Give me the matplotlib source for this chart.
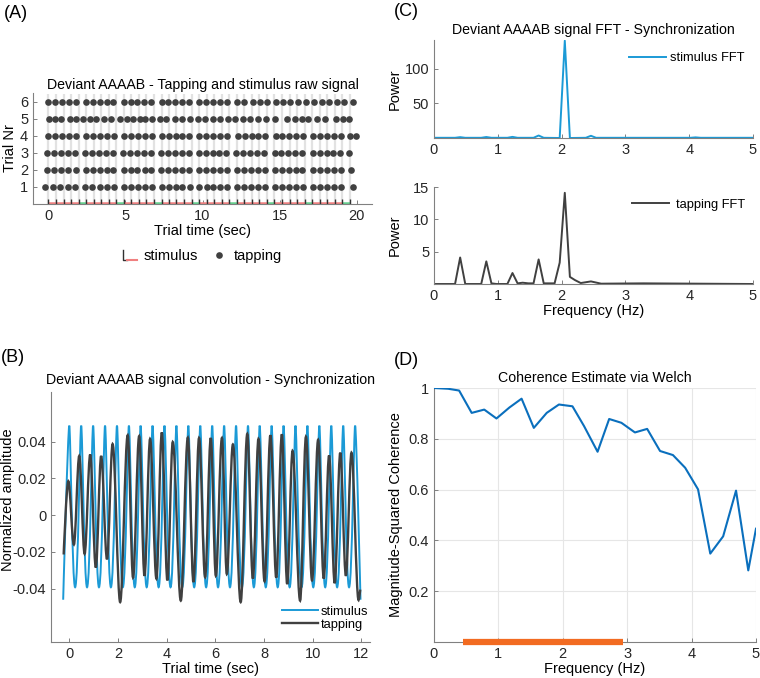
"""
Four panel figure: raw tapping / stimulus events, convolved signals,
FFT power of both signals and Welch coherence (AAAAB deviant condition).
"""

import matplotlib
matplotlib.use('Agg')
import matplotlib.pyplot as plt
from matplotlib.lines import Line2D
from matplotlib.path import Path
from matplotlib.patches import PathPatch
from matplotlib.legend_handler import HandlerBase

# ---------------------------------------------------------------
# Data
# ---------------------------------------------------------------

# (A) stimulus onsets (sec) and their type, tap onsets per trial
stim_times = [0.00, 0.49, 0.98, 1.47, 1.96, 2.45, 2.93, 3.42, 3.91, 4.40,
              4.89, 5.38, 5.87, 6.36, 6.85, 7.34, 7.82, 8.31, 8.80, 9.29,
              9.78, 10.27, 10.76, 11.25, 11.74, 12.23, 12.71, 13.20, 13.69, 14.18,
              14.67, 15.16, 15.65, 16.14, 16.63, 17.12, 17.60, 18.09, 18.58, 19.07,
              19.56]
stim_labels = "AAAABAAAABAAAABAAAABAAAABAAAABAAAABAAAABA"

taps_trial1 = [-0.24, 0.30, 0.78, 1.25, 1.72, 2.40, 2.86, 3.32, 3.78, 4.24,
               4.88, 5.34, 5.80, 6.26, 6.70, 7.34, 7.80, 8.26, 8.70, 9.16,
               9.80, 10.26, 10.70, 11.16, 11.60, 12.26, 12.72, 13.16, 13.60, 14.06,
               14.72, 15.18, 15.62, 16.08, 16.52, 17.20, 17.64, 18.10, 18.56, 19.00,
               19.76]
taps_trial2 = [-0.08, 0.38, 0.84, 1.30, 1.76, 2.42, 2.88, 3.32, 3.78, 4.22,
               4.90, 5.34, 5.78, 6.24, 6.68, 7.32, 7.78, 8.22, 8.68, 9.12,
               9.78, 10.24, 10.68, 11.14, 11.58, 12.24, 12.70, 13.14, 13.58, 14.04,
               14.70, 15.14, 15.60, 16.04, 16.48, 17.18, 17.62, 18.08, 18.52, 18.98,
               19.62]
taps_trial3 = [-0.10, 0.36, 0.82, 1.28, 1.74, 2.40, 2.86, 3.30, 3.75, 4.20,
               4.85, 5.30, 5.75, 6.20, 6.65, 7.30, 7.75, 8.20, 8.65, 9.10,
               9.75, 10.20, 10.65, 11.10, 11.55, 12.20, 12.65, 13.10, 13.55, 14.00,
               14.68, 15.12, 15.56, 16.00, 16.44, 17.15, 17.60, 18.05, 18.50, 18.95,
               19.52]
taps_trial4 = [0.00, 0.46, 0.90, 1.35, 1.80, 2.46, 2.90, 3.35, 3.80, 4.24,
               4.92, 5.36, 5.80, 6.25, 6.70, 7.36, 7.80, 8.25, 8.70, 9.14,
               9.80, 10.25, 10.70, 11.14, 11.58, 12.30, 12.74, 13.18, 13.62, 14.06,
               14.74, 15.18, 15.62, 16.06, 16.50, 17.20, 17.64, 18.08, 18.52, 18.96,
               19.57, 19.96]
taps_trial5 = [0.04, 0.45, 0.84, 1.38, 1.82, 2.25, 2.68, 3.12, 3.61, 4.05,
               4.63, 5.10, 5.49, 5.93, 6.30, 6.72, 7.23, 7.66, 8.20, 8.64,
               9.18, 9.68, 10.15, 10.69, 11.12, 11.66, 12.10, 12.64, 13.07, 13.60,
               14.10, 14.70, 15.49, 15.99, 16.43, 16.86, 17.40, 17.94, 18.66, 19.09,
               19.52]
taps_trial6 = [0.00, 0.45, 0.89, 1.34, 1.78, 2.43, 2.88, 3.33, 3.78, 4.22,
               4.88, 5.33, 5.78, 6.22, 6.66, 7.34, 7.78, 8.22, 8.67, 9.12,
               9.78, 10.22, 10.66, 11.11, 11.56, 12.22, 12.67, 13.25, 13.72, 14.20,
               14.76, 15.23, 15.71, 16.20, 16.71, 17.23, 17.73, 18.22, 18.74, 19.18,
               19.78]
tap_trials = [taps_trial1, taps_trial2, taps_trial3, taps_trial4, taps_trial5, taps_trial6]

# (B) convolved signals, given by their turning points (sec, amplitude)
stim_conv_t = [-0.25, 0.00, 0.24, 0.49, 0.73, 0.98, 1.22, 1.47, 1.71, 1.96,
               2.20, 2.45, 2.69, 2.93, 3.18, 3.42, 3.67, 3.91, 4.16, 4.40,
               4.64, 4.89, 5.13, 5.38, 5.62, 5.87, 6.11, 6.36, 6.60, 6.85,
               7.09, 7.34, 7.58, 7.82, 8.07, 8.31, 8.56, 8.80, 9.05, 9.29,
               9.54, 9.78, 10.02, 10.27, 10.51, 10.76, 11.00, 11.25, 11.49, 11.74,
               11.96]
stim_conv_v = [-0.0460, 0.0487, -0.0392, 0.0487, -0.0392, 0.0487, -0.0392, 0.0487, -0.0392, 0.0487,
               -0.0392, 0.0487, -0.0392, 0.0487, -0.0392, 0.0487, -0.0392, 0.0487, -0.0392, 0.0487,
               -0.0392, 0.0487, -0.0392, 0.0487, -0.0392, 0.0487, -0.0392, 0.0487, -0.0392, 0.0487,
               -0.0392, 0.0487, -0.0392, 0.0487, -0.0392, 0.0487, -0.0392, 0.0487, -0.0392, 0.0487,
               -0.0392, 0.0487, -0.0392, 0.0487, -0.0392, 0.0487, -0.0392, 0.0487, -0.0392, 0.0487,
               -0.0460]

tap_conv_t = [-0.23, -0.04, 0.19, 0.41, 0.63, 0.86, 1.09, 1.31, 1.55, 1.78,
              2.09, 2.40, 2.62, 2.87, 3.09, 3.32, 3.58, 3.80, 4.03, 4.25,
              4.58, 4.87, 5.10, 5.33, 5.58, 5.81, 6.02, 6.27, 6.47, 6.72,
              7.04, 7.31, 7.54, 7.77, 8.02, 8.26, 8.50, 8.73, 8.95, 9.17,
              9.48, 9.72, 9.97, 10.22, 10.45, 10.67, 10.90, 11.13, 11.36, 11.59,
              11.88, 11.95]
tap_conv_v = [-0.0214, 0.0185, -0.0160, 0.0322, -0.0210, 0.0330, -0.0285, 0.0322, -0.0240, 0.0387,
              -0.0473, 0.0435, -0.0340, 0.0430, -0.0330, 0.0415, -0.0346, 0.0450, -0.0355, 0.0398,
              -0.0465, 0.0422, -0.0364, 0.0420, -0.0337, 0.0420, -0.0330, 0.0420, -0.0320, 0.0385,
              -0.0473, 0.0442, -0.0345, 0.0415, -0.0360, 0.0435, -0.0340, 0.0440, -0.0375, 0.0350,
              -0.0465, 0.0427, -0.0355, 0.0410, -0.0345, 0.0325, -0.0370, 0.0340, -0.0330, 0.0340,
              -0.0462, -0.0405]

# (C) FFT power spectra
stim_fft_f = [0.00, 0.33, 0.41, 0.49, 0.74, 0.82, 0.90, 1.15, 1.23, 1.31, 1.56, 1.64,
              1.72, 1.97, 2.05, 2.13, 2.38, 2.46, 2.54, 4.02, 4.10, 4.18, 5.00]
stim_fft_p = [0.3, 0.3, 1.2, 0.3, 0.3, 1.4, 0.3, 0.3, 1.6, 0.3, 0.3, 3.6,
              0.3, 0.0, 141.0, 0.0, 0.3, 3.2, 0.3, 0.3, 0.9, 0.3, 0.3]

tap_fft_f = [0.00, 0.33, 0.41, 0.49, 0.74, 0.82, 0.90, 0.98, 1.15, 1.23, 1.31, 1.39, 1.48,
             1.56, 1.64, 1.72, 1.89, 1.97, 2.05, 2.13, 2.21, 2.30, 2.46, 2.62, 3.28, 5.00]
tap_fft_p = [0.0, 0.0, 4.1, 0.0, 0.0, 3.5, 0.1, 0.0, 0.0, 1.7, 0.1, 0.2, 0.1,
             0.1, 3.8, 0.1, 0.1, 3.3, 14.1, 1.1, 0.6, 0.15, 0.4, 0.05, 0.1, 0.0]

# (D) magnitude-squared coherence
coh_f = [0.00, 0.22, 0.39, 0.585, 0.78, 0.97, 1.17, 1.36, 1.55, 1.75, 1.94, 2.15, 2.33, 2.54,
         2.72, 2.91, 3.12, 3.31, 3.51, 3.71, 3.90, 4.10, 4.29, 4.49, 4.69, 4.88, 5.00]
coh_v = [1.000, 0.997, 0.990, 0.902, 0.915, 0.880, 0.923, 0.958, 0.843, 0.902, 0.935, 0.928,
         0.850, 0.749, 0.878, 0.863, 0.825, 0.839, 0.752, 0.736, 0.686, 0.601, 0.348, 0.416,
         0.596, 0.282, 0.446]
sig_band = [0.45, 2.94]

# ---------------------------------------------------------------
# Style
# ---------------------------------------------------------------
W, H = 760, 678
STIM_BLUE = '#1b9ad6'
TAP_GRAY = '#404040'
COH_BLUE = '#0a6fbd'
BAND_ORANGE = '#f26b21'
STIM_RED = '#f08080'
STIM_GREEN = '#66d08e'
AXIS_GRAY = '#808080'
TEXT_DARK = '#262626'
FS = 10.5        # ticks and axis labels
FS_TITLE = 10.2
FS_LEGEND = 9.3

plt.rcParams['font.family'] = ['Liberation Sans', 'DejaVu Sans']
plt.rcParams['font.size'] = FS
plt.rcParams['axes.unicode_minus'] = False


def px_rect(left, top, right, bottom):
    """Axes rectangle from pixel edges (origin top-left)."""
    return [left / W, 1 - bottom / H, (right - left) / W, (bottom - top) / H]


def style_axes(ax):
    for s in ['top', 'right']:
        ax.spines[s].set_visible(False)
    for s in ['left', 'bottom']:
        ax.spines[s].set_color(AXIS_GRAY)
        ax.spines[s].set_linewidth(0.8)
    ax.tick_params(direction='in', length=3, width=0.7, color=AXIS_GRAY,
                   labelcolor=TEXT_DARK, labelsize=FS)


def turning_point_path(ts, vs, k_max, k_min):
    """Smooth bezier path through turning points (flat tangent at each one).
    k_max / k_min set how wide the curve is around maxima / minima."""
    verts = [(ts[0], vs[0])]
    codes = [Path.MOVETO]
    last = len(ts) - 1
    for i in range(last):
        t0, v0, t1, v1 = ts[i], vs[i], ts[i + 1], vs[i + 1]
        dt = t1 - t0
        k0 = 0.0 if i == 0 else (k_max if v0 > v1 else k_min)
        k1 = 0.0 if i + 1 == last else (k_max if v1 > v0 else k_min)
        verts += [(t0 + k0 * dt, v0), (t1 - k1 * dt, v1), (t1, v1)]
        codes += [Path.CURVE4] * 3
    return Path(verts, codes)


class StimIconHandler(HandlerBase):
    """Legend glyph for the stimulus: black onset tick on a red baseline."""

    def create_artists(self, legend, orig_handle, xdescent, ydescent,
                       width, height, fontsize, trans):
        x0, y0 = -xdescent, -ydescent
        tick = Line2D([x0, x0, x0 + 0.3 * width], [y0 + height, y0, y0],
                      color='#303030', lw=1.0, transform=trans)
        base = Line2D([x0 + 0.3 * width, x0 + width], [y0, y0],
                      color=STIM_RED, lw=1.5, transform=trans)
        return [tick, base]


def plot_raw(ax):
    """(A) stimulus onsets as grey lines, taps as dots per trial."""
    ax.vlines(stim_times, 0, 6.45, color='#e2e2e2', lw=1.6, zorder=1)
    for trial, taps in enumerate(tap_trials, start=1):
        ax.plot(taps, [trial] * len(taps), 'o', color=TAP_GRAY, ms=4.8,
                mec='none', zorder=3)
    seg_colors = [STIM_GREEN if lab == 'B' else STIM_RED for lab in stim_labels[:-1]]
    seg_y = [0.05] * (len(stim_times) - 1)
    ax.hlines(seg_y, stim_times[:-1], stim_times[1:], colors=seg_colors, lw=1.8,
              zorder=2, clip_on=False)
    ax.vlines(stim_times, 0, 0.32, color='#303030', lw=1.0, zorder=2)

    ax.set_xlim(-1, 21)
    ax.set_ylim(0, 6.5)
    ax.set_yticks([1, 2, 3, 4, 5, 6])
    ax.set_xticks([0, 5, 10, 15, 20])
    style_axes(ax)
    ax.set_title('Deviant AAAAB - Tapping and stimulus raw signal', fontsize=FS_TITLE,
                 pad=3, color='black')
    ax.set_xlabel('Trial time (sec)', labelpad=1)
    ax.set_ylabel('Trial Nr', labelpad=2)

    stim_proxy = Line2D([], [])
    tap_handle = Line2D([], [], color=TAP_GRAY, marker='o', ls='none', ms=4.8, mec='none')
    ax.legend([stim_proxy, tap_handle], ['stimulus', 'tapping'], ncol=2,
              loc='center', bbox_to_anchor=(0.5, -0.47), frameon=False,
              handler_map={stim_proxy: StimIconHandler()},
              handlelength=0.9, handletextpad=0.5, columnspacing=1.0, fontsize=FS)


def plot_convolution(ax):
    """(B) convolved stimulus and tapping signals."""
    ax.add_patch(PathPatch(turning_point_path(stim_conv_t, stim_conv_v, 0.22, 0.5),
                           fill=False, edgecolor=STIM_BLUE, lw=1.4))
    ax.add_patch(PathPatch(turning_point_path(tap_conv_t, tap_conv_v, 0.36, 0.36),
                           fill=False, edgecolor=TAP_GRAY, lw=1.7))
    ax.set_xlim(-0.75, 12.35)
    ax.set_ylim(-0.069, 0.067)
    ax.set_xticks([0, 2, 4, 6, 8, 10, 12])
    ax.set_yticks([-0.04, -0.02, 0, 0.02, 0.04])
    ax.set_yticklabels(['-0.04', '-0.02', '0', '0.02', '0.04'])
    style_axes(ax)
    ax.set_title('Deviant AAAAB signal convolution - Synchronization', fontsize=FS_TITLE, pad=6)
    ax.set_xlabel('Trial time (sec)', labelpad=1)
    ax.set_ylabel('Normalized amplitude')
    ax.yaxis.set_label_coords(-0.112, 0.57)
    handles = [Line2D([], [], color=STIM_BLUE, lw=1.4),
               Line2D([], [], color=TAP_GRAY, lw=1.7)]
    ax.legend(handles, ['stimulus', 'tapping'], loc='lower right',
              bbox_to_anchor=(1.01, 0.025), frameon=False, fontsize=FS_LEGEND,
              handlelength=2.8, handletextpad=0.2, labelspacing=0.05, borderaxespad=0)


def plot_fft(ax_top, ax_bot):
    """(C) FFT power of stimulus (top) and tapping (bottom)."""
    ax_top.plot(stim_fft_f, stim_fft_p, color=STIM_BLUE, lw=1.4, label='stimulus FFT')
    ax_top.set_xlim(0, 5)
    ax_top.set_ylim(0, 142)
    ax_top.set_yticks([50, 100])
    ax_top.set_xticks([0, 1, 2, 3, 4, 5])
    style_axes(ax_top)
    ax_top.set_title('Deviant AAAAB signal FFT - Synchronization', fontsize=FS_TITLE, pad=4)
    ax_top.set_ylabel('Power', labelpad=2)
    ax_top.legend(loc='upper right', bbox_to_anchor=(0.99, 0.93), frameon=False,
                  fontsize=FS_LEGEND, handlelength=2.9, handletextpad=0.3, borderaxespad=0)

    ax_bot.plot(tap_fft_f, tap_fft_p, color=TAP_GRAY, lw=1.4, label='tapping FFT')
    ax_bot.set_xlim(0, 5)
    ax_bot.set_ylim(0, 15)
    ax_bot.set_yticks([5, 10, 15])
    ax_bot.set_xticks([0, 1, 2, 3, 4, 5])
    style_axes(ax_bot)
    ax_bot.set_xlabel('Frequency (Hz)', labelpad=1)
    ax_bot.set_ylabel('Power', labelpad=8)
    ax_bot.legend(loc='upper right', bbox_to_anchor=(0.99, 0.93), frameon=False,
                  fontsize=FS_LEGEND, handlelength=2.9, handletextpad=0.5, borderaxespad=0)


def plot_coherence(ax):
    """(D) Welch coherence estimate with significant band."""
    ax.plot(coh_f, coh_v, color=COH_BLUE, lw=1.5, zorder=3)
    ax.plot(sig_band, [0, 0], color=BAND_ORANGE, lw=4.5, solid_capstyle='butt',
            clip_on=False, zorder=4)
    ax.set_xlim(0, 5)
    ax.set_ylim(0, 1)
    ax.set_xticks([0, 1, 2, 3, 4, 5])
    ax.set_yticks([0.2, 0.4, 0.6, 0.8, 1.0])
    ax.set_yticklabels(['0.2', '0.4', '0.6', '0.8', '1'])
    ax.grid(True, color='#e6e6e6', lw=0.8)
    ax.set_axisbelow(True)
    style_axes(ax)
    ax.set_title('Coherence Estimate via Welch', fontsize=FS_TITLE, pad=4)
    ax.set_xlabel('Frequency (Hz)', labelpad=1)
    ax.set_ylabel('Magnitude-Squared Coherence', labelpad=4)


fig = plt.figure(figsize=(W / 100, H / 100), dpi=100)

ax_a = fig.add_axes(px_rect(33, 93, 372, 204))
ax_b = fig.add_axes(px_rect(51, 392, 370, 642))
ax_c1 = fig.add_axes(px_rect(434, 40, 753, 138))
ax_c2 = fig.add_axes(px_rect(434, 187, 753, 284))
ax_d = fig.add_axes(px_rect(434, 388, 756, 642))

plot_raw(ax_a)
plot_convolution(ax_b)
plot_fft(ax_c1, ax_c2)
plot_coherence(ax_d)

for label, x, y in [('(A)', 4, 13), ('(B)', 1, 358), ('(C)', 394, 12), ('(D)', 394, 360)]:
    fig.text(x / W, 1 - y / H, label, fontsize=13, ha='left', va='center')

fig.savefig('out.png', dpi=100)
